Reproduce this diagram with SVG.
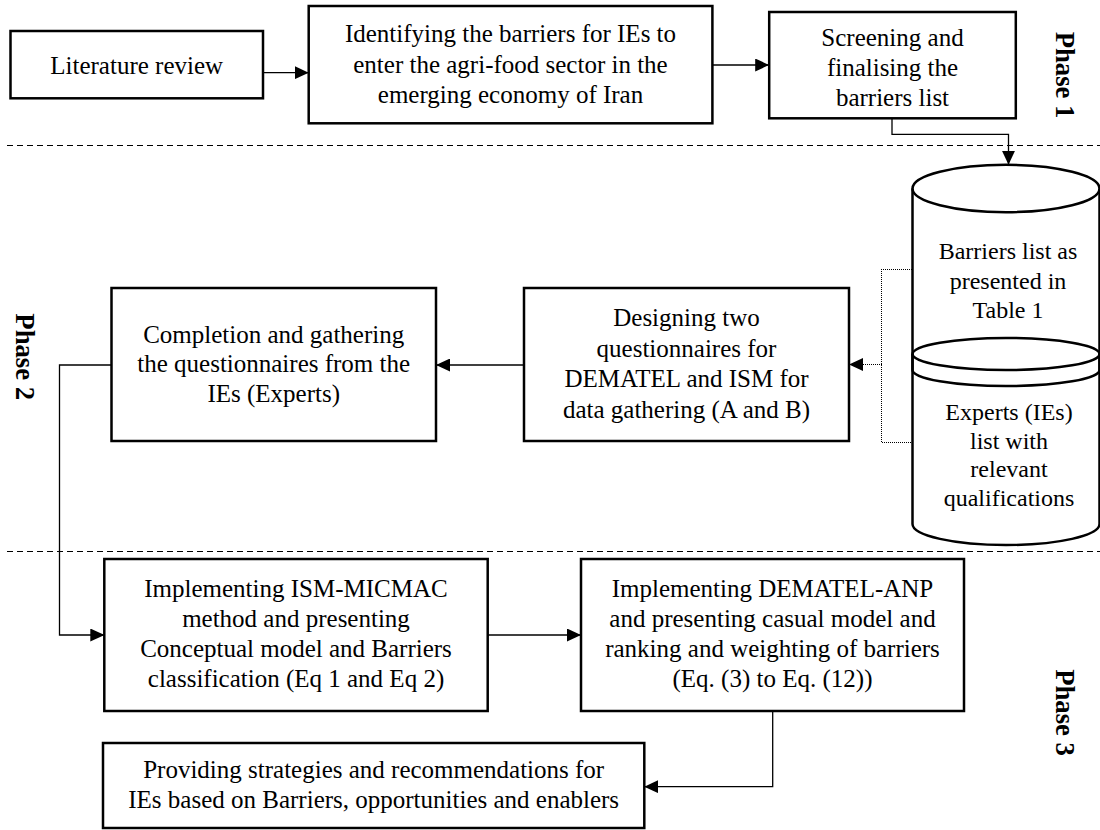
<svg xmlns="http://www.w3.org/2000/svg" width="1100" height="830" viewBox="0 0 1100 830">
<defs>
<marker id="arr" markerUnits="userSpaceOnUse" markerWidth="14" markerHeight="13" refX="14" refY="6.5" orient="auto"><path d="M0,0 L14,6.5 L0,13 z" fill="#000" stroke="none"/></marker>
<style>
.box{fill:#fff;stroke:#000;stroke-width:2.5}
.t{font-family:"Liberation Serif","Times New Roman",serif;font-size:25px;fill:#000;text-anchor:middle}
.tc{font-size:24px}
.ph{font-family:"Liberation Serif","Times New Roman",serif;font-size:26.7px;font-weight:bold;fill:#000;text-anchor:middle}
.con{fill:none;stroke:#000;stroke-width:1.3}
.dot{fill:none;stroke:#000;stroke-width:1;stroke-dasharray:1 1;shape-rendering:crispEdges}
.sep{stroke:#000;stroke-width:1.2;stroke-dasharray:6 4}
.can{fill:none;stroke:#000;stroke-width:2.5}
</style>
</defs>
<rect width="1100" height="830" fill="#fff"/>
<g id="separators">
<line class="sep" x1="7" y1="145.5" x2="1100" y2="145.5"/>
<line class="sep" x1="7" y1="551.5" x2="1100" y2="551.5"/>
</g>
<g id="phase-labels">
<text class="ph" transform="translate(1055.5,75) rotate(90)">Phase 1</text>
<text class="ph" transform="translate(16,356.7) rotate(90)">Phase 2</text>
<text class="ph" transform="translate(1056,712.5) rotate(90)">Phase 3</text>
</g>
<g id="literature-review">
<rect class="box" x="10.5" y="31" width="252.5" height="67.3"/>
<text class="t" x="136.7" y="74">Literature review</text>
</g>
<g id="identifying-barriers">
<rect class="box" x="308.7" y="6" width="403.7" height="117.3"/>
<text class="t" x="510.5" y="42">Identifying the barriers for IEs to</text>
<text class="t" x="510.5" y="72.5">enter the agri-food sector in the</text>
<text class="t" x="510.5" y="103">emerging economy of Iran</text>
</g>
<g id="screening">
<rect class="box" x="769.2" y="12" width="246.6" height="106.3"/>
<text class="t" x="892.5" y="46">Screening and</text>
<text class="t" x="892.5" y="76">finalising the</text>
<text class="t" x="892.5" y="106">barriers list</text>
</g>
<g id="barriers-list-db">
<path class="can" d="M912.5,188.5 L912.5,370 A93.5,16 0 0 0 1099.5,370 L1099.5,188.5"/>
<ellipse class="can" cx="1006" cy="188.5" rx="93.5" ry="23.7"/>
<text class="t tc" x="1008" y="259">Barriers list as</text>
<text class="t tc" x="1008" y="288.5">presented in</text>
<text class="t tc" x="1008" y="318">Table 1</text>
</g>
<g id="experts-list-db">
<ellipse class="can" cx="1006" cy="354" rx="93.5" ry="16"/>
<path class="can" d="M912.5,354 L912.5,524 A93.5,21 0 0 0 1099.5,524 L1099.5,354"/>
<text class="t tc" x="1009" y="420">Experts (IEs)</text>
<text class="t tc" x="1009" y="448.5">list with</text>
<text class="t tc" x="1009" y="477">relevant</text>
<text class="t tc" x="1009" y="505.5">qualifications</text>
</g>
<g id="designing-questionnaires">
<rect class="box" x="524" y="288" width="325" height="153"/>
<text class="t" x="686.5" y="326">Designing two</text>
<text class="t" x="686.5" y="356.5">questionnaires for</text>
<text class="t" x="686.5" y="387">DEMATEL and ISM for</text>
<text class="t" x="686.5" y="417.5">data gathering (A and B)</text>
</g>
<g id="completion-gathering">
<rect class="box" x="111.5" y="288" width="324.5" height="153"/>
<text class="t" x="273.7" y="342.5">Completion and gathering</text>
<text class="t" x="273.7" y="372">the questionnaires from the</text>
<text class="t" x="273.7" y="401.5">IEs (Experts)</text>
</g>
<g id="ism-micmac">
<rect class="box" x="104.3" y="559" width="383.4" height="152"/>
<text class="t" x="296" y="597">Implementing ISM-MICMAC</text>
<text class="t" x="296" y="627">method and presenting</text>
<text class="t" x="296" y="657">Conceptual model and Barriers</text>
<text class="t" x="296" y="687">classification (Eq 1 and Eq 2)</text>
</g>
<g id="dematel-anp">
<rect class="box" x="581" y="559" width="383" height="152"/>
<text class="t" x="772.5" y="597">Implementing DEMATEL-ANP</text>
<text class="t" x="772.5" y="627">and presenting casual model and</text>
<text class="t" x="772.5" y="657">ranking and weighting of barriers</text>
<text class="t" x="772.5" y="687">(Eq. (3) to Eq. (12))</text>
</g>
<g id="strategies">
<rect class="box" x="103" y="743" width="541.3" height="85"/>
<text class="t" x="373.7" y="778">Providing strategies and recommendations for</text>
<text class="t" x="373.7" y="808">IEs based on Barriers, opportunities and enablers</text>
</g>
<g id="connectors">
<path class="con" d="M263,72.7 H308.7" marker-end="url(#arr)"/>
<path class="con" d="M712.4,65 H769.2" marker-end="url(#arr)"/>
<path class="con" d="M892,118.3 V134.3 H1008.5 V164.8" marker-end="url(#arr)"/>
<path class="dot" d="M912,269.5 H881.5 V442.5 H912"/>
<path class="dot" d="M881.5,364.5 H862"/>
<path d="M863,358 L849,364.5 L863,371 z" fill="#000"/>
<path class="con" d="M524,365 H436" marker-end="url(#arr)"/>
<path class="con" d="M111.5,365 H59.5 V635 H104.3" marker-end="url(#arr)"/>
<path class="con" d="M487.7,635 H581" marker-end="url(#arr)"/>
<path class="con" d="M772.7,711 V786.7 H644.3" marker-end="url(#arr)"/>
</g>
</svg>
